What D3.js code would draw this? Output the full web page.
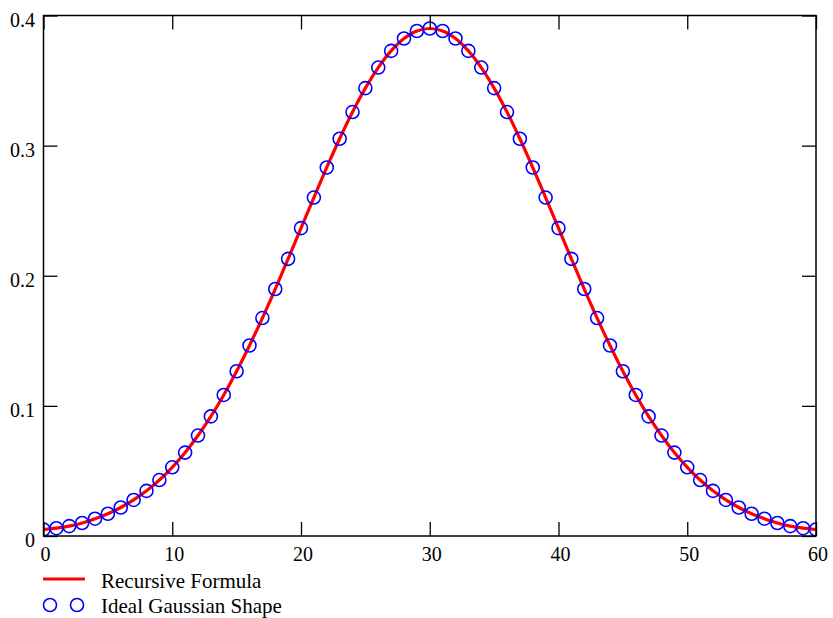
<!DOCTYPE html>
<html>
<head>
<meta charset="utf-8">
<script src="https://cdn.jsdelivr.net/npm/d3@7"></script>
<style>
  body { margin: 0; background: #fff; }
</style>
</head>
<body>
<svg id="chart" width="833" height="618"></svg>
<script>
// ---- data ----
const xValues = d3.range(0, 61);
const gaussianValues = [
  0.0050, 0.0060, 0.0076, 0.0100, 0.0133, 0.0171, 0.0219, 0.0277, 0.0347, 0.0430,
  0.0528, 0.0641, 0.0772, 0.0919, 0.1084, 0.1266, 0.1464, 0.1675, 0.1898, 0.2130,
  0.2366, 0.2601, 0.2832, 0.3053, 0.3258, 0.3442, 0.3600, 0.3728, 0.3823, 0.3881,
  0.3900, 0.3881, 0.3823, 0.3728, 0.3600, 0.3442, 0.3258, 0.3053, 0.2832, 0.2601,
  0.2366, 0.2130, 0.1898, 0.1675, 0.1464, 0.1266, 0.1084, 0.0919, 0.0772, 0.0641,
  0.0528, 0.0430, 0.0347, 0.0277, 0.0219, 0.0171, 0.0133, 0.0100, 0.0076, 0.0060, 0.0050
];
const recursiveValues = [
  0.0050, 0.0060, 0.0076, 0.0100, 0.0133, 0.0171, 0.0219, 0.0277, 0.0347, 0.0430,
  0.0528, 0.0641, 0.0772, 0.0919, 0.1084, 0.1266, 0.1464, 0.1675, 0.1898, 0.2130,
  0.2366, 0.2601, 0.2832, 0.3053, 0.3258, 0.3442, 0.3600, 0.3728, 0.3823, 0.3881,
  0.3900, 0.3881, 0.3823, 0.3728, 0.3600, 0.3442, 0.3258, 0.3053, 0.2832, 0.2601,
  0.2366, 0.2130, 0.1898, 0.1675, 0.1464, 0.1266, 0.1084, 0.0919, 0.0772, 0.0641,
  0.0528, 0.0430, 0.0347, 0.0277, 0.0219, 0.0171, 0.0133, 0.0100, 0.0076, 0.0060, 0.0050
];
const xTicks = [0, 10, 20, 30, 40, 50, 60];
const yTicks = [0, 0.1, 0.2, 0.3, 0.4];
const yTickLabels = ["0", "0.1", "0.2", "0.3", "0.4"];
const legendLabels = ["Recursive Formula", "Ideal Gaussian Shape"];

// ---- layout ----
const FONT = "'Liberation Serif', 'Times New Roman', serif";
const L = 43.5, R = 816, T = 15.5, B = 536;
const svg = d3.select("#chart");
const x = d3.scaleLinear().domain([0, 60]).range([L, R]);
const y = d3.scaleLinear().domain([0, 0.4]).range([B, T]);
const tickLen = 14;

svg.append("defs").append("clipPath").attr("id", "plotclip")
  .append("rect").attr("x", L).attr("y", T).attr("width", R - L).attr("height", B - T);

const plot = svg.append("g").attr("clip-path", "url(#plotclip)");

// red line
const line = d3.line()
  .x((d, i) => x(xValues[i]))
  .y(d => y(d))
  .curve(d3.curveCatmullRom);
plot.append("path")
  .datum(recursiveValues)
  .attr("d", line)
  .attr("fill", "none")
  .attr("stroke", "#ff0000")
  .attr("stroke-width", 3.2);

// blue circles
plot.selectAll("circle.pt")
  .data(gaussianValues)
  .join("circle")
  .attr("class", "pt")
  .attr("cx", (d, i) => x(xValues[i]))
  .attr("cy", d => y(d))
  .attr("r", 6.5)
  .attr("fill", "none")
  .attr("stroke", "#0000ff")
  .attr("stroke-width", 1.6);

// axes (inward ticks) using d3 axes
const axisStyle = g => {
  g.select(".domain").remove();
  g.selectAll(".tick line").attr("stroke", "#000").attr("stroke-width", 1.3);
  g.selectAll(".tick text").remove();
};
svg.append("g").attr("transform", `translate(0,${B})`)
  .call(d3.axisTop(x).tickValues(xTicks).tickSize(tickLen)).call(axisStyle);
svg.append("g").attr("transform", `translate(0,${T})`)
  .call(d3.axisBottom(x).tickValues(xTicks).tickSize(tickLen)).call(axisStyle);
svg.append("g").attr("transform", `translate(${L},0)`)
  .call(d3.axisRight(y).tickValues(yTicks).tickSize(tickLen)).call(axisStyle);
svg.append("g").attr("transform", `translate(${R},0)`)
  .call(d3.axisLeft(y).tickValues(yTicks).tickSize(tickLen)).call(axisStyle);

// frame
svg.append("rect")
  .attr("x", L).attr("y", T).attr("width", R - L).attr("height", B - T)
  .attr("fill", "none").attr("stroke", "#000").attr("stroke-width", 1.5);

// tick labels
svg.selectAll("text.xl")
  .data(xTicks)
  .join("text")
  .attr("class", "xl")
  .attr("x", d => x(d) + 2)
  .attr("y", 560.5)
  .attr("text-anchor", "middle")
  .attr("font-family", FONT)
  .attr("font-size", 20)
  .attr("fill", "#000")
  .text(d => d);
svg.selectAll("text.yl")
  .data(yTicks)
  .join("text")
  .attr("class", "yl")
  .attr("x", 35)
  .attr("y", d => y(d) + 11)
  .attr("text-anchor", "end")
  .attr("font-family", FONT)
  .attr("font-size", 20)
  .attr("fill", "#000")
  .text((d, i) => yTickLabels[i]);

// legend
const lg = svg.append("g").attr("font-family", FONT).attr("fill", "#000");
lg.append("line").attr("x1", 43).attr("x2", 85).attr("y1", 579).attr("y2", 579)
  .attr("stroke", "#ff0000").attr("stroke-width", 3.2);
lg.append("text").attr("x", 101).attr("y", 588).attr("font-size", 21).text(legendLabels[0]);
[50, 77].forEach(cx => {
  lg.append("circle").attr("cx", cx).attr("cy", 605).attr("r", 6.5)
    .attr("fill", "none").attr("stroke", "#0000ff").attr("stroke-width", 1.6);
});
lg.append("text").attr("x", 101).attr("y", 612.5).attr("font-size", 21).text(legendLabels[1]);
</script>
</body>
</html>
